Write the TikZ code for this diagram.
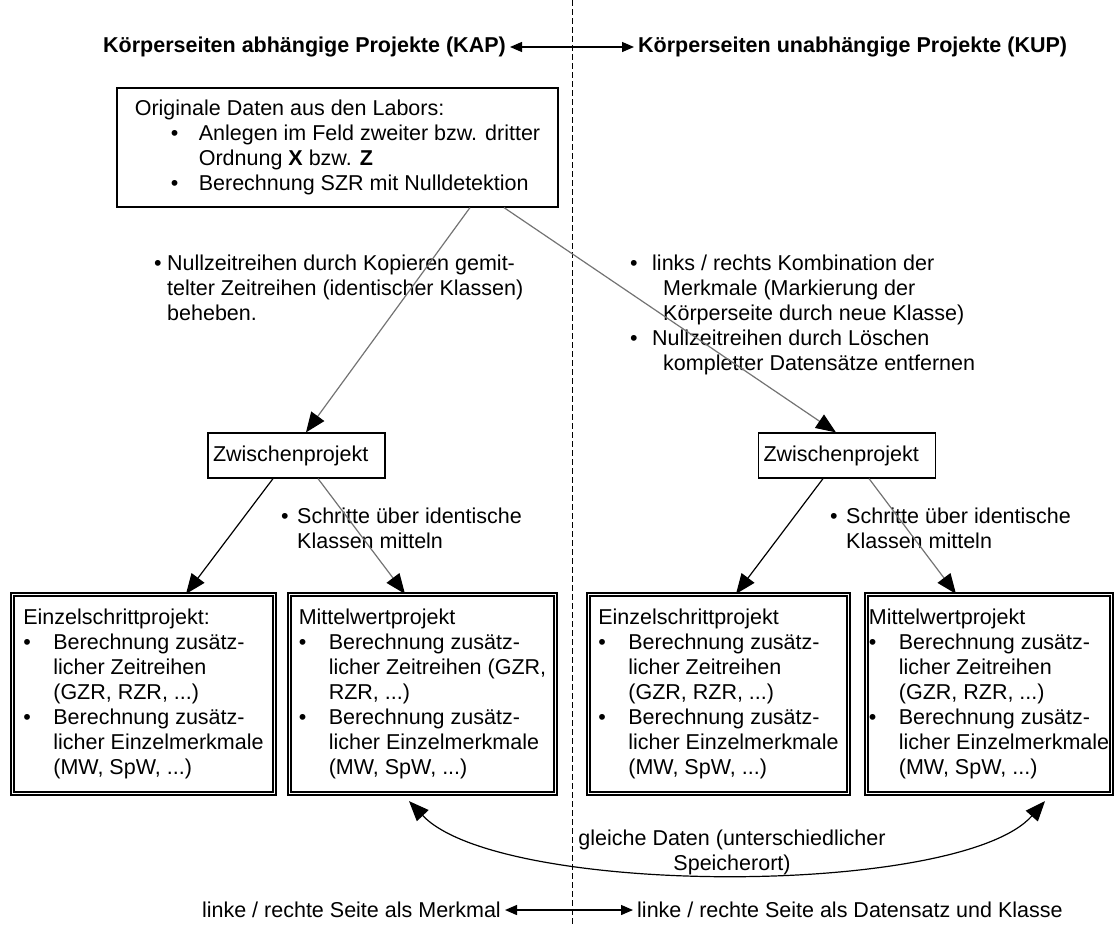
\documentclass[tikz,border=0pt]{standalone}
\usepackage{fontspec}
\setmainfont{Liberation Sans}
\usetikzlibrary{arrows.meta}
\newcommand{\bullbox}[1]{\makebox[#1][l]{\textbullet}}

\begin{document}
\begin{tikzpicture}[x=1pt,y=-1pt,font=\fontsize{21.5}{25}\selectfont]
\useasboundingbox (0,0) rectangle (1115,924);
\draw [line width=0.9pt,dash pattern=on 6pt off 3pt] (572,0) -- (572,924);
\begin{scope}[every node/.style={font=\fontsize{21.5}{25}\selectfont\bfseries,inner sep=4pt}]
    \node [anchor=east] (KAP) at (510,47) {Körperseiten abhängige Projekte (KAP)};
    \node [anchor=west] (KUP) at (634,47) {Körperseiten unabhängige Projekte (KUP)};
\end{scope}
\begin{scope}[every node/.style={rectangle,draw,line width=1.2pt,align=left}]
    \node [minimum width=441pt,minimum height=119pt,inner sep=0pt] (O) at (337.5,147.5)
        {Originale Daten aus den Labors:\\
         \hspace*{36pt}\bullbox{28pt}Anlegen im Feld zweiter bzw. dritter\\
         \hspace*{64pt}Ordnung \textbf{X} bzw. \textbf{Z}\\
         \hspace*{36pt}\bullbox{28pt}Berechnung SZR mit Nulldetektion};
    \node [text width=167pt,inner xsep=5pt,minimum height=45pt] (Z1) at (296.5,455.5) {Zwischenprojekt};
    \node [text width=167pt,inner xsep=5pt,minimum height=45pt] (Z2) at (847,455.5) {Zwischenprojekt};
\end{scope}
\begin{scope}[every node/.style={rectangle,draw,double,double distance=1.8pt,line width=1.2pt,
                                align=left,minimum height=199pt,inner sep=0pt}]
    \node [minimum width=262pt] (E1) at (143.5,694)
        {Einzelschrittprojekt:\\
         \bullbox{30pt}Berechnung zusätz-\\
         \hspace*{30pt}licher Zeitreihen\\
         \hspace*{30pt}(GZR, RZR, ...)\\
         \bullbox{30pt}Berechnung zusätz-\\
         \hspace*{30pt}licher Einzelmerkmale\\
         \hspace*{30pt}(MW, SpW, ...)};
    \node [minimum width=266pt] (M1) at (422.5,694)
        {Mittelwertprojekt\\
         \bullbox{30pt}Berechnung zusätz-\\
         \hspace*{30pt}licher Zeitreihen (GZR,\\
         \hspace*{30pt}RZR, ...)\\
         \bullbox{30pt}Berechnung zusätz-\\
         \hspace*{30pt}licher Einzelmerkmale\\
         \hspace*{30pt}(MW, SpW, ...)};
    \node [minimum width=260pt] (E2) at (718.5,694)
        {Einzelschrittprojekt\\
         \bullbox{30pt}Berechnung zusätz-\\
         \hspace*{30pt}licher Zeitreihen\\
         \hspace*{30pt}(GZR, RZR, ...)\\
         \bullbox{30pt}Berechnung zusätz-\\
         \hspace*{30pt}licher Einzelmerkmale\\
         \hspace*{30pt}(MW, SpW, ...)};
    \node [minimum width=245pt] (M2) at (989,694)
        {Mittelwertprojekt\\
         \bullbox{30pt}Berechnung zusätz-\\
         \hspace*{30pt}licher Zeitreihen\\
         \hspace*{30pt}(GZR, RZR, ...)\\
         \bullbox{30pt}Berechnung zusätz-\\
         \hspace*{30pt}licher Einzelmerkmale\\
         \hspace*{30pt}(MW, SpW, ...)};
\end{scope}
\begin{scope}[every node/.style={anchor=north west,align=left,inner sep=0pt}]
    \node (NK) at (154,255)
        {\bullbox{13pt}Nullzeitreihen durch Kopieren gemit-\\
         \hspace*{13pt}telter Zeitreihen (identischer Klassen)\\
         \hspace*{13pt}beheben.};
    \node (NU) at (630,255)
        {\bullbox{22pt}links / rechts Kombination der\\
         \hspace*{33pt}Merkmale (Markierung der\\
         \hspace*{33pt}Körperseite durch neue Klasse)\\
         \bullbox{22pt}Nullzeitreihen durch Löschen\\
         \hspace*{33pt}kompletter Datensätze entfernen};
    \node (S1) at (281,508)
        {\bullbox{16pt}Schritte über identische\\
         \hspace*{16pt}Klassen mitteln};
    \node (S2) at (830,508)
        {\bullbox{16pt}Schritte über identische\\
         \hspace*{16pt}Klassen mitteln};
\end{scope}
\node [align=center,inner sep=0pt] (G) at (732,852.5) {gleiche Daten (unterschiedlicher\\Speicherort)};
\node [anchor=east,inner sep=4pt] (BL) at (505,910) {linke / rechte Seite als Merkmal};
\node [anchor=west,inner sep=4pt] (BR) at (633,910) {linke / rechte Seite als Datensatz und Klasse};
\begin{scope}[>={Triangle[length=12pt,width=10pt,black]},
              every edge/.style={draw=black,line width=1.3pt}]
    \path [<->] (KAP) edge (KUP);
    \path [<->] (BL) edge (BR);
\end{scope}
\begin{scope}[>={Triangle[length=20pt,width=16pt,black]},
              every edge/.style={draw=black!55,line width=1.2pt}]
    \path [->] ([xshift=132.5pt]O.south) edge ([xshift=9.5pt]Z1.north);
    \path [->] ([xshift=166.5pt]O.south) edge ([xshift=-11pt]Z2.north);
    \path [->] ([xshift=21.5pt]Z1.south) edge ([xshift=-17.5pt]M1.north);
    \path [->] ([xshift=22pt]Z2.south) edge ([xshift=-33pt]M2.north);
\end{scope}
\begin{scope}[>={Triangle[length=20pt,width=16pt,black]},
              every edge/.style={draw=black,line width=1.2pt}]
    \path [->] ([xshift=-23.5pt]Z1.south) edge ([xshift=42.5pt]E1.north);
    \path [->] ([xshift=-24pt]Z2.south) edge ([xshift=17.5pt]E2.north);
    \draw [<->,line width=1.2pt] ([xshift=-13.5pt,yshift=-7pt]M1.south)
        .. controls +(91,96) and +(-85,96) .. ([xshift=56pt,yshift=-7pt]M2.south);
\end{scope}
\end{tikzpicture}
\end{document}
